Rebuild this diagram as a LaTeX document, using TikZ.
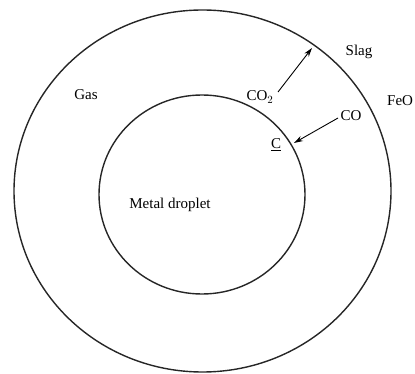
\documentclass[tikz,border=0pt]{standalone}
\usepackage{fontspec}
\setmainfont{Liberation Serif}
\usetikzlibrary{arrows.meta}
\begin{document}
\begin{tikzpicture}[x=1pt,y=-1pt,
  ring/.style={line width=1.4pt, draw=black!85},
  lbl/.style={font=\fontsize{15}{17}\selectfont, inner sep=0pt},
  flux/.style={line width=0.9pt, -{Stealth[length=9pt,width=5.5pt]}}]
\useasboundingbox (0,0) rectangle (415,374);
\draw[ring] (202.5,191) ellipse [x radius=188.5, y radius=181];
\draw[ring] (202,194.5) ellipse [x radius=103, y radius=99.5];
\node[lbl] (gas) at (86,95) {Gas};
\node[lbl] (slag) at (359,52) {Slag};
\node[lbl, anchor=west] (feo) at (387,101) {FeO};
\node[lbl] (co2) at (260,97) {CO$_2$};
\node[lbl] (co) at (351,116) {CO};
\node[lbl] (c) at (276,145) {\underline{C}};
\node[lbl] (metal) at (170,205) {Metal droplet};
\coordinate (co2s) at (278,92);
\coordinate (co2e) at (312,48);
\coordinate (cos) at (338,118);
\coordinate (coe) at (294,143);
\draw[flux] (co2s) -- (co2e);
\draw[flux] (cos) -- (coe);
\end{tikzpicture}
\end{document}
